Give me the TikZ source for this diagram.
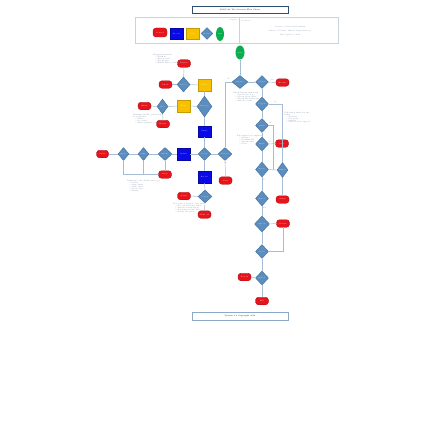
\documentclass[tikz,border=0pt]{standalone}
\usepackage{xcolor}
\usetikzlibrary{calc}
\usetikzlibrary{shapes.geometric}
\definecolor{fRed}{HTML}{E8141B}
\definecolor{fRedEdge}{HTML}{A50F12}
\definecolor{fBlue}{HTML}{0A0AE6}
\definecolor{fYellow}{HTML}{F8C100}
\definecolor{fGreen}{HTML}{0BAE4E}
\definecolor{fSteel}{HTML}{5B8DBE}
\definecolor{fSteelEdge}{HTML}{41719C}
\definecolor{fLine}{HTML}{A7BDD6}
\definecolor{fNote}{HTML}{6F7F98}
\definecolor{fFrame}{HTML}{C9D3DE}
\tikzset{
    stopbox/.style={
            rectangle,
            rounded corners=3pt,
            draw=fRedEdge,
            fill=fRed,
            minimum width=13pt,
            minimum height=7.5pt,
            inner sep=0pt, % text is tiny anyway
            text=white,
            font=\fontsize{1.6}{1.8}\selectfont
        },
    taskbox/.style={
            rectangle,
            draw=fBlue!70!black,
            fill=fBlue,
            minimum width=13pt,
            minimum height=11pt,
            inner sep=0pt,
            text=white,
            font=\fontsize{1.6}{1.8}\selectfont
        },
    databox/.style={
            taskbox,
            draw=fYellow!80!black,
            fill=fYellow,
            minimum height=12pt
        },
    decision/.style={
            diamond,
            draw=fSteelEdge,
            fill=fSteel,
            minimum width=13pt,
            minimum height=14pt,
            inner sep=0pt,
            text=white,
            font=\fontsize{1.5}{1.7}\selectfont
        },
    startnode/.style={
            ellipse,
            fill=fGreen,
            minimum width=9pt,
            minimum height=14pt,
            inner sep=0pt,
            text=white,
            font=\fontsize{1.6}{1.8}\selectfont
        },
    flow/.style={
            draw=fLine,
            line width=0.5pt
        },
    notes/.style={
            text=fNote,
            align=left,
            anchor=north west,
            inner sep=0pt,
            font=\fontsize{1.8}{3.2}\selectfont
        },
    tag/.style={
            text=fNote,
            inner sep=0.5pt,
            font=\fontsize{1.6}{1.8}\selectfont
        },
    frame/.style={
            draw=fFrame,
            line width=0.6pt
        },
    banner/.style={
            rectangle,
            draw=fSteelEdge!70!black,
            line width=0.5pt,
            minimum width=96pt,
            minimum height=7pt,
            inner sep=0pt,
            font=\fontsize{1.9}{2.2}\selectfont
        }
}
\begin{document}
\begin{tikzpicture}[x=1pt,y=-1pt]
    \useasboundingbox (0,0) rectangle (444,444);
    % title and legend
    \node[banner] (title) at (240,9.5) {SMSC-68 The Scenario Flow Chart};
    \draw[frame] (135,17) rectangle (338,43);
    \draw[frame] (239,17) -- (239,43);
    \node[tag, anchor=east] (leghead) at (237.5,20.5) {Legend};
    \node[tag, anchor=west] (conthead) at (241,20.5) {Contacts};
    \node[stopbox, minimum width=14pt, minimum height=9pt] (legstop) at (160,32.5) {Contact};
    \node[taskbox] (legtask) at (176.5,33.5) {Process};
    \node[databox, minimum height=11pt] (legdata) at (192.5,33.5) {Data};
    \node[decision, minimum width=12pt, minimum height=12pt] (legdec) at (207,33.5) {Decision};
    \node[startnode, minimum width=8pt] (legstart) at (220,34) {Start};
    \node[tag, align=center, font=\fontsize{1.7}{4.3}\selectfont] (contacts) at (290,31)
    {Contact: Service Desk Admin\\Phone: 555-0123 \quad Email: help@desk.org\\Last Updated: 2012};

    % main column
    \node[startnode] (start) at (240,52.5) {Start};
    \node[decision, minimum width=16pt, minimum height=13pt] (q1) at (240,82) {Known?};
    \node[decision, minimum height=13pt] (q2) at (262,82) {Urgent?};
    \node[stopbox] (e2) at (282.5,82.5) {Escalate};
    \node[decision] (q3) at (262,104) {Logged?};
    \node[decision] (q4) at (262,125.5) {Valid?};
    \node[decision] (q5) at (262,144) {Fixed?};
    \node[stopbox] (e5) at (282,143.5) {Close};
    \node[decision, minimum height=15pt] (q6) at (262,169.5) {Retry?};
    \node[decision, minimum width=11pt, minimum height=15pt] (q6b) at (282.5,170) {Owner?};
    \node[stopbox] (e6b) at (282.5,199.5) {Assign};
    \node[decision, minimum height=15pt] (q7) at (262,198.5) {Tested?};
    \node[decision, minimum width=15pt, minimum height=16pt] (q8) at (262,224) {Agreed?};
    \node[stopbox] (e8) at (283,223.5) {Review};
    \node[decision] (q9) at (262,251.5) {Done?};
    \node[decision] (q10) at (262,278) {Signed?};
    \node[stopbox] (e10) at (244.5,277) {Reopen};
    \node[stopbox] (fin) at (262,301) {End};

    % left cluster
    \node[decision, minimum height=15pt] (p1) at (183.5,84.5) {Source?};
    \node[stopbox] (p1top) at (184,63.5) {Request};
    \node[stopbox] (p1left) at (165.5,84.5) {Phone};
    \node[databox] (y1) at (204.5,85) {Ticket};
    \node[decision, minimum width=15pt, minimum height=21pt] (p2) at (204.5,106.5) {Category?};
    \node[databox] (y2) at (183.5,106) {Form};
    \node[decision, minimum width=11pt, minimum height=15pt] (p3) at (162.5,106.5) {Info?};
    \node[stopbox] (p3left) at (144.5,106) {Email};
    \node[stopbox] (p3down) at (163,124) {Return};
    \node[taskbox] (t1) at (204.5,131.5) {Triage};

    % middle row
    \node[stopbox, minimum width=12pt] (erow) at (102.5,154) {Caller};
    \node[decision, minimum width=11pt, minimum height=13pt] (r1) at (123.5,154) {Open?};
    \node[decision, minimum width=11pt, minimum height=13pt] (r2) at (143.5,154) {Same?};
    \node[decision, minimum width=14pt, minimum height=13pt] (r3) at (165,154) {Match?};
    \node[taskbox, minimum height=12pt] (t2) at (183.5,154) {Update};
    \node[decision, minimum width=13pt, minimum height=13pt] (r4) at (204.5,154) {Level?};
    \node[decision, minimum width=14pt, minimum height=13pt] (r5) at (225,154) {Remote?};
    \node[stopbox] (er3) at (165,174.5) {Merge};
    \node[taskbox, minimum height=12pt] (t3) at (204.5,177) {Resolve};
    \node[stopbox] (er5) at (225.5,180.5) {Visit};
    \node[decision, minimum width=14pt, minimum height=13pt] (r6) at (205,196.5) {Solved?};
    \node[stopbox] (er6l) at (184,196) {Notify};
    \node[stopbox] (er6b) at (204.5,214.5) {Hand off};

    % connectors, main column
    \path[flow]
    (start) edge (q1)
    (q1) edge (q2)
    (q2) edge (e2)
    (q2) edge (q3)
    (q3) edge (q4)
    (q4) edge (q5)
    (q5) edge (e5)
    (q5) edge (q6)
    (q6) edge (q6b)
    (q6b) edge (e6b)
    (q6) edge (q7)
    (q7) edge (q8)
    (q8) edge (e8)
    (q8) edge (q9)
    (q9) edge (q10)
    (q10) edge (e10)
    (q10) edge (fin);
    \draw[flow] (q3.east) -| (q6b.north);
    \draw[flow] (q4.east) -| ($(q6.east)!0.5!(q6b.west)$);
    \draw[flow] (e8.south) |- (q9.east);
    \draw[flow] (q1.west) -| (r5.north);

    % connectors, left cluster
    \path[flow]
    (p1top) edge (p1)
    (p1left) edge (p1)
    (p1) edge (y1)
    (y1) edge (p2)
    (p2) edge (y2)
    (y2) edge (p3)
    (p3) edge (p3left)
    (p3) edge (p3down)
    (p2) edge (t1)
    (t1) edge (r4);

    % connectors, middle row
    \path[flow]
    (erow) edge (r1)
    (r1) edge (r2)
    (r2) edge (r3)
    (r3) edge (t2)
    (t2) edge (r4)
    (r4) edge (r5)
    (r3) edge (er3)
    (r4) edge (t3)
    (r5) edge (er5)
    (t3) edge (r6)
    (r6) edge (er6l)
    (r6) edge (er6b);
    \draw[flow] (r1.south) |- (er3.west);
    \draw[flow] (r2.south) -- (r2 |- er3);

    % branch words
    \node[tag] (yes1) at (229,78.5) {No};
    \node[tag] (yes2) at (272,79.5) {Yes};
    \node[tag] (no3) at (276,101.5) {No};
    \node[tag] (no4) at (271,122.5) {No};
    \node[tag] (yes5) at (271,141.5) {Yes};
    \node[tag] (no6) at (264.5,180) {No};
    \node[tag] (yes7) at (264.5,208) {Yes};
    \node[tag] (no8) at (226,162.5) {No};

    % notes
    \node[notes] (n1) at (153,54) {Request channels\\[-1.3pt]\quad\textbullet\ Walk-in\\[-1.3pt]\quad\textbullet\ Web portal\\[-1.3pt]\quad\textbullet\ Phone line\\[-1.3pt]\quad\textbullet\ Email inbox / shared box};
    \node[notes] (n2) at (233,92) {Check known issues list\\[-1.3pt]\quad\textbullet\ Search the log\\[-1.3pt]\quad\textbullet\ Check open calls\\[-1.3pt]\quad\textbullet\ Check the wiki page\\[-1.3pt]\quad\textbullet\ Ask the team};
    \node[notes] (n3) at (133,114) {Missing details, send back\\[-1.3pt]to requester\\[-1.3pt]\quad\textbullet\ Name\\[-1.3pt]\quad\textbullet\ Location\\[-1.3pt]\quad\textbullet\ Asset number / serial};
    \node[notes] (n4) at (284,112) {Validation rules for the\\[-1.3pt]ticket\\[-1.3pt]\quad\textbullet\ Priority\\[-1.3pt]\quad\textbullet\ Category\\[-1.3pt]\quad\textbullet\ Impact\\[-1.3pt]\quad\textbullet\ Service level agreed};
    \node[notes] (n5) at (237,135) {Fix applied by engineer\\[-1.3pt]\quad\textbullet\ Update\\[-1.3pt]\quad\textbullet\ Confirm fix\\[-1.3pt]\quad\textbullet\ Inform user\\[-1.3pt]\quad\textbullet\ Close};
    \node[notes] (n6) at (127,180) {Duplicate call checks (see log)\\[-1.3pt]\quad\textbullet\ Caller\\[-1.3pt]\quad\textbullet\ Same fault\\[-1.3pt]\quad\textbullet\ Same asset\\[-1.3pt]\quad\textbullet\ Open date\\[-1.3pt]\quad\textbullet\ Owner};
    \node[notes] (n7) at (173,203) {Not solved, hand to 2nd line\\[-1.3pt]\quad\textbullet\ Record all steps taken\\[-1.3pt]\quad\textbullet\ Attach screen shots\\[-1.3pt]\quad\textbullet\ Set next review date\\[-1.3pt]\quad\textbullet\ Notify the user};

    % footer
    \node[banner, minimum height=8pt, draw=fSteelEdge!60] (footer) at (240,316) {Version 1.0 Copyright 2012};
\end{tikzpicture}
\end{document}
